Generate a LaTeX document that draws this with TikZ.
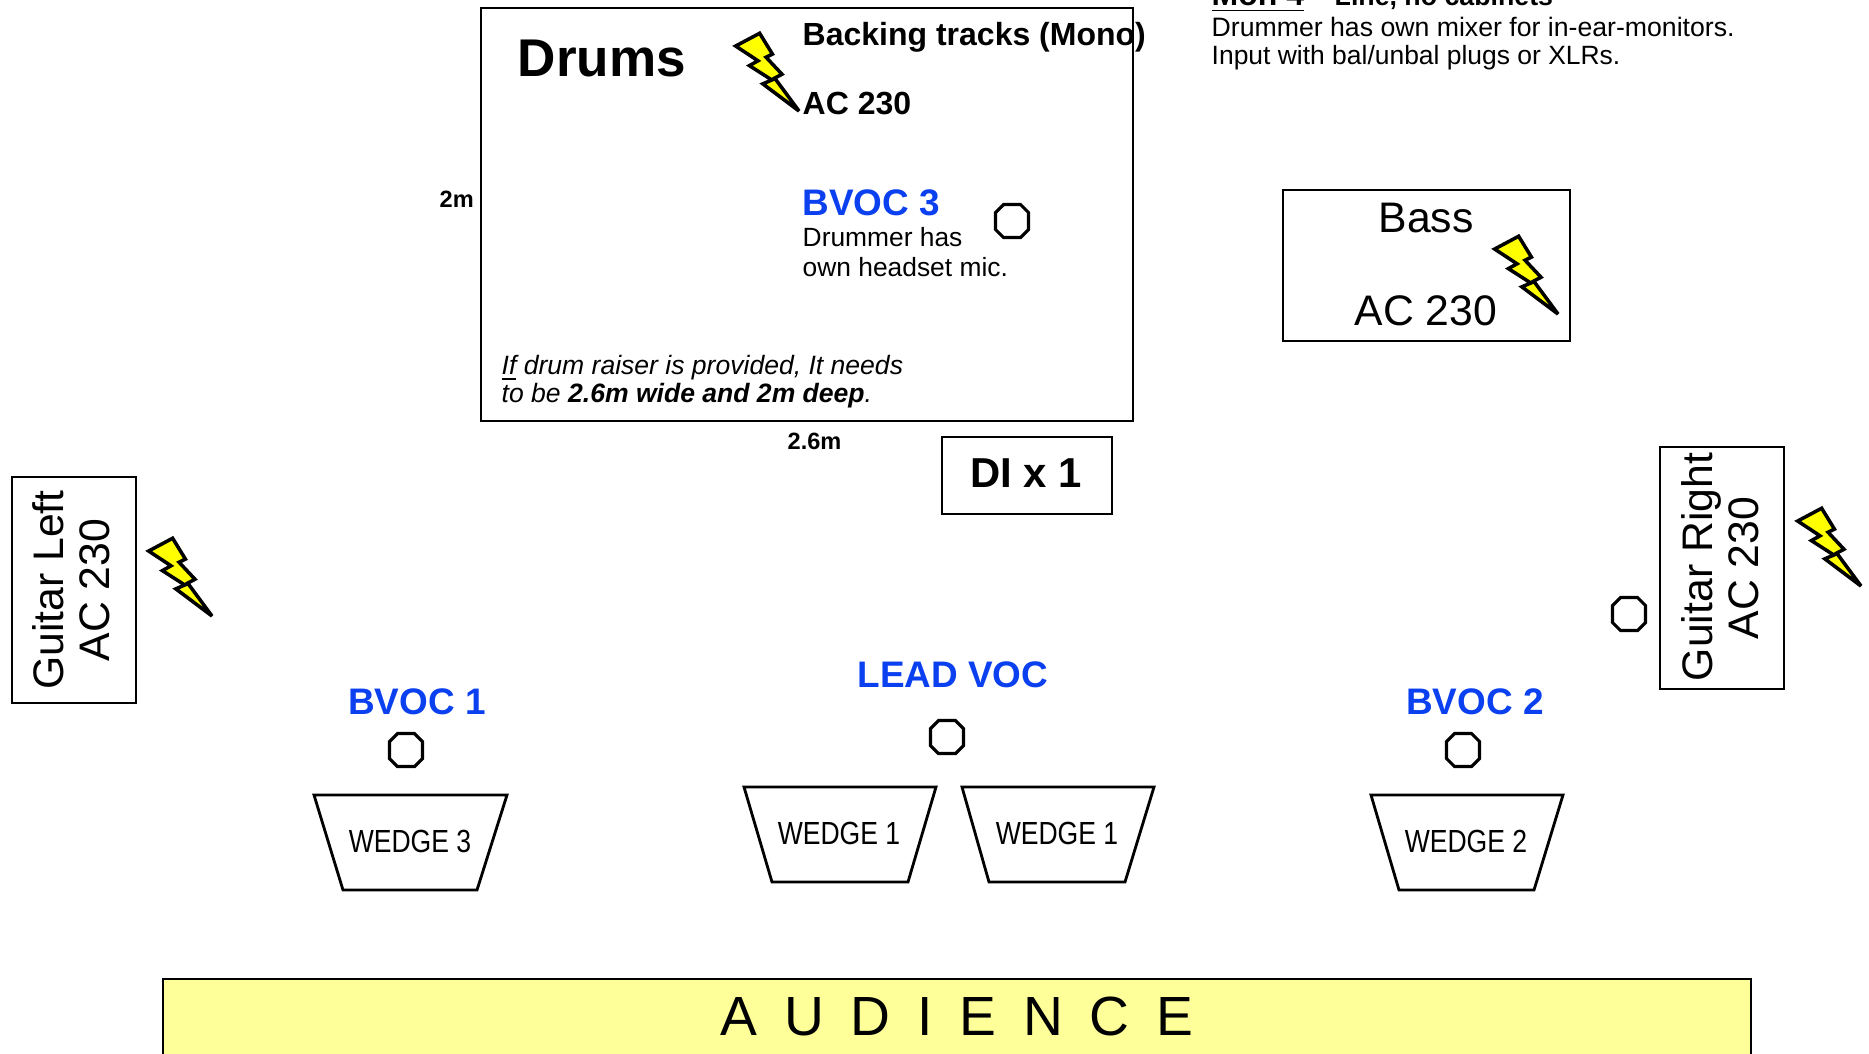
\documentclass[tikz,border=0pt]{standalone}
\usepackage{fontspec}
\setmainfont{Liberation Sans}
\newfontfamily\narrowfont[FakeStretch=0.83]{Liberation Sans}
\newfontfamily\audfont[WordSpace=0.87]{Liberation Sans}
\usepackage{xcolor}
\definecolor{vocblue}{RGB}{10,64,240}
\definecolor{audyellow}{RGB}{255,255,153}
\definecolor{boltyellow}{RGB}{255,255,0}
\tikzset{
    stagebox/.style={draw=black, line width=0.8pt},
    txt/.style={inner sep=0pt, anchor=base west},
    ctr/.style={inner sep=0pt, anchor=base},
    voclabel/.style={ctr, text=vocblue, font=\bfseries\fontsize{10.5}{12}\selectfont},
    wedgelabel/.style={ctr, font=\narrowfont\fontsize{9.1}{11}\selectfont},
    body/.style={txt, font=\fontsize{7.5}{9}\selectfont},
    dimlabel/.style={txt, font=\bfseries\fontsize{6.7}{8}\selectfont},
    big/.style={ctr, font=\fontsize{12.15}{14}\selectfont},
    pics/mic/.style={code={
        \draw[line width=0.9pt] (-8.5,-16.5) -- (8.5,-16.5) -- (16.5,-8.5) -- (16.5,8.5)
            -- (8.5,16.5) -- (-8.5,16.5) -- (-16.5,8.5) -- (-16.5,-8.5) -- cycle;
    }},
    pics/bolt/.style={code={
        \draw[fill=boltyellow, line width=1pt, miter limit=3, scale=0.96] (-66,-67.7) -- (-41,-81) -- (-27.7,-59.3) -- (-34.3,-56)
            -- (-17.7,-38.3) -- (-25.3,-34.3) -- (0,0) -- (-37.7,-28.3) -- (-28.3,-32.3)
            -- (-51.7,-47.3) -- (-42.7,-52.3) -- cycle;
    }}
}

\begin{document}
\begin{tikzpicture}[x=0.01cm, y=-0.01cm]
    \clip (0,0) rectangle (1869,1053);

    % Notes top right
    \node[txt, font=\bfseries\fontsize{9.1}{11}\selectfont] (monname) at (1211,5) {\underline{Mon 4}};
    \node[txt, font=\bfseries\fontsize{7.6}{9}\selectfont] (monline) at (1334,5) {Line, no cabinets};
    \node[txt, font=\fontsize{7.58}{9}\selectfont] (monnote1) at (1211,36) {Drummer has own mixer for in-ear-monitors.};
    \node[txt, font=\fontsize{7.52}{9}\selectfont] (monnote2) at (1211,64) {Input with bal/unbal plugs or XLRs.};

    % Drums
    \draw[stagebox] (481,8) rectangle (1133,421);
    \node[txt, font=\bfseries\fontsize{15.1}{18}\selectfont] (drums) at (517,76) {Drums};
    \pic (boltdrums) at (799,111) {bolt};
    \node[txt, font=\bfseries\fontsize{9.1}{11}\selectfont] (backing) at (802,45) {Backing tracks (Mono)};
    \node[txt, font=\bfseries\fontsize{9.1}{11}\selectfont] (acdrums) at (802,114) {AC 230};
    \node[voclabel, anchor=base west] (bvocthree) at (802,215) {BVOC 3};
    \node[body] (headset1) at (802,246) {Drummer has};
    \node[body] (headset2) at (802,276) {own headset mic.};
    \pic (micthree) at (1012,221) {mic};
    \node[txt, font=\itshape\fontsize{7.55}{9}\selectfont] (raiser1) at (501,374) {\underline{If} drum raiser is provided, It needs};
    \node[txt, font=\itshape\fontsize{7.55}{9}\selectfont] (raiser2) at (501,402) {to be \textbf{2.6m wide and 2m deep}.};
    \node[dimlabel] (deep) at (439,207) {2m};
    \node[dimlabel] (wide) at (787,449) {2.6m};

    % DI
    \draw[stagebox] (942,437) rectangle (1112,514);
    \node[ctr, font=\bfseries\fontsize{11.9}{14}\selectfont] (di) at (1026,487) {DI x 1};

    % Bass
    \draw[stagebox] (1283,190) rectangle (1570,341);
    \node[big] (bass) at (1426,232) {Bass};
    \node[big] (acbass) at (1426,325) {AC 230};
    \pic (boltbass) at (1558,314) {bolt};

    % Guitar left
    \draw[stagebox] (12,477) rectangle (136,703);
    \node[big, rotate=90] (guitarl) at (63,590) {Guitar Left};
    \node[big, rotate=90] (acguitarl) at (110,590) {AC 230};
    \pic (boltl) at (212,616) {bolt};

    % Guitar right
    \draw[stagebox] (1660,447) rectangle (1784,689);
    \node[big, rotate=90] (guitarr) at (1712,567) {Guitar Right};
    \node[big, rotate=90] (acguitarr) at (1758,568) {AC 230};
    \pic (boltr) at (1861,586) {bolt};
    \pic (micright) at (1629,614) {mic};

    % Vocals
    \node[voclabel] (bvocone) at (417,714) {BVOC 1};
    \pic (micone) at (406,750) {mic};
    \node[voclabel] (leadvoc) at (953,687) {LEAD VOC};
    \pic (miclead) at (947,737) {mic};
    \node[voclabel] (bvoctwo) at (1475,714) {BVOC 2};
    \pic (mictwo) at (1463,750) {mic};

    % Wedges
    \draw[stagebox] (314,795) -- (507,795) -- (477,890) -- (343,890) -- cycle;
    \node[wedgelabel] (wedgethree) at (410,852) {WEDGE 3};
    \draw[stagebox] (744,787) -- (936,787) -- (908,882) -- (772,882) -- cycle;
    \node[wedgelabel] (wedgeonea) at (839,844) {WEDGE 1};
    \draw[stagebox] (962,787) -- (1154,787) -- (1125,882) -- (989,882) -- cycle;
    \node[wedgelabel] (wedgeoneb) at (1057,844) {WEDGE 1};
    \draw[stagebox] (1371,795) -- (1563,795) -- (1534,890) -- (1399,890) -- cycle;
    \node[wedgelabel] (wedgetwo) at (1466,852) {WEDGE 2};

    % Audience
    \draw[stagebox, fill=audyellow] (163,979) rectangle (1751,1100);
    \node[ctr, font=\audfont\fontsize{15.7}{18}\selectfont] (audience) at (957,1035) {A~~U~~D~~I~~E~~N~~C~~E};
\end{tikzpicture}
\end{document}
